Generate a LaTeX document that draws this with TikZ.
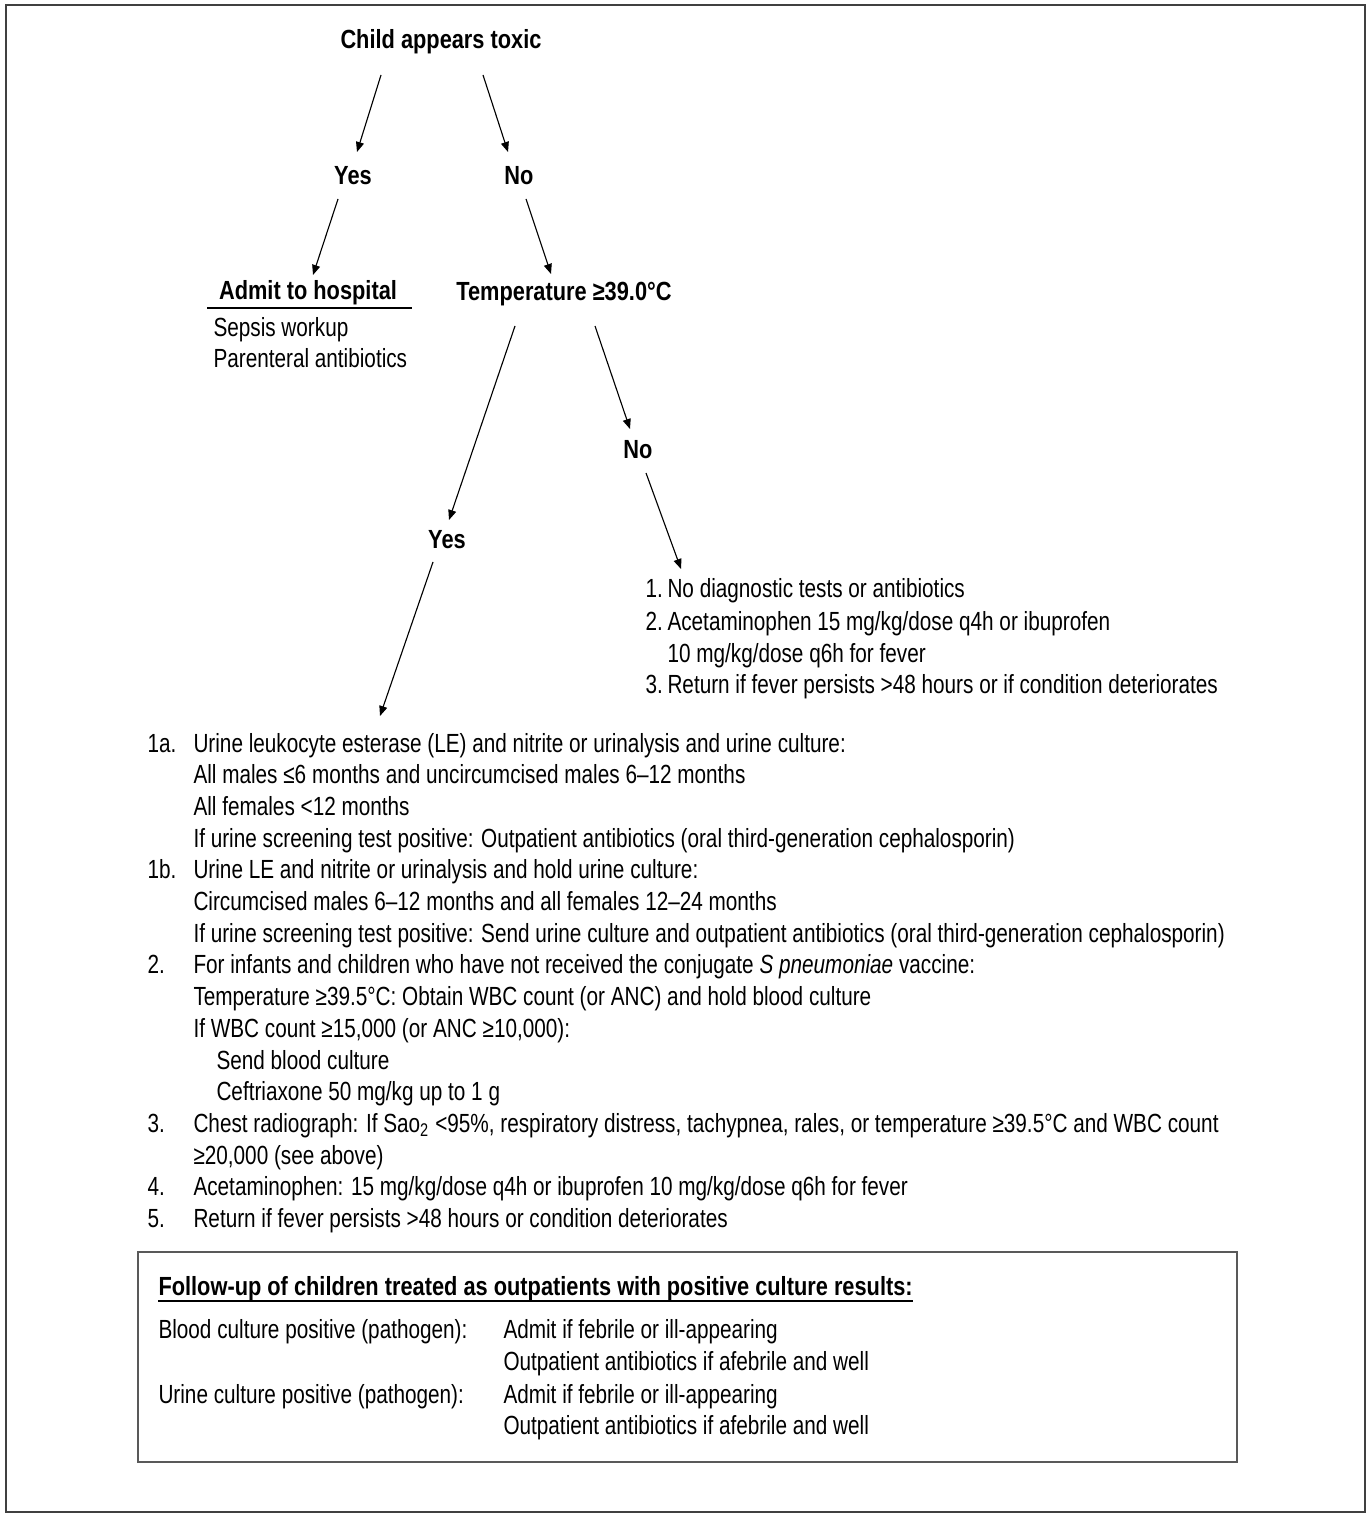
\documentclass[tikz,border=0pt]{standalone}
\usepackage{fontspec}
\setmainfont{Liberation Sans}[FakeStretch=0.79]
\newfontface\headfont{Liberation Sans Bold}[FakeStretch=0.83]
\usepackage{tikz}
\usetikzlibrary{arrows.meta,calc}
\newcommand{\listTop}{752}
\newcommand{\lineGap}{31.7}

\begin{document}
\begin{tikzpicture}[x=0.4pt,y=-0.4pt,
	every node/.style={inner sep=0pt,font=\fontsize{10.5}{12.7}\selectfont},
	head/.style={anchor=base,font=\fontsize{10.5}{12.7}\headfont},
	txt/.style={anchor=base west},
	arr/.style={-{Triangle[length=4pt,width=3.2pt]},line width=0.45pt,draw=black}]
	\useasboundingbox (0,0) rectangle (1367,1517);
	\draw[line width=0.9pt,draw=black!75] (6,5) rectangle (1365,1512);

	% decision tree
	\node[head] (toxic) at (441,49) {Child appears toxic};
	\node[head] (yesA) at (353,185) {Yes};
	\node[head] (noA) at (519,185) {No};
	\node[head] (admit) at (308,300) {Admit to hospital};
	\node[head] (temp) at (564,301) {Temperature ≥39.0°C};
	\node[txt] (sepsis) at (213,337) {Sepsis workup};
	\node[txt] (parent) at (213,368) {Parenteral antibiotics};
	\node[head] (noB) at (638,459) {No};
	\node[head] (yesB) at (447,548) {Yes};
	\draw[line width=0.5pt] ($(admit.base)+(-101,8)$) -- ($(admit.base)+(104,8)$);

	% no fever list
	\node[txt] (nA1) at (645,597) {1.};
	\node[txt] (rA1) at (667,597) {No diagnostic tests or antibiotics};
	\node[txt] (nA2) at (645,630) {2.};
	\node[txt] (rA2) at (667,630) {Acetaminophen 15 mg/kg/dose q4h or ibuprofen};
	\node[txt] (rA2b) at (667,662) {10 mg/kg/dose q6h for fever};
	\node[txt] (nA3) at (645,693) {3.};
	\node[txt] (rA3) at (667,693) {Return if fever persists >48 hours or if condition deteriorates};

	% fever list
	\node[txt] (n1a) at (147,\listTop) {1a.};
	\node[txt] (l1a) at (193,\listTop) {Urine leukocyte esterase (LE) and nitrite or urinalysis and urine culture:};
	\node[txt] (l1a1) at (193,{\listTop+\lineGap}) {All males ≤6 months and uncircumcised males 6–12 months};
	\node[txt] (l1a2) at (193,{\listTop+2*\lineGap}) {All females <12 months};
	\node[txt] (l1a3) at (193,{\listTop+3*\lineGap}) {If urine screening test positive: Outpatient antibiotics (oral third-generation cephalosporin)};
	\node[txt] (n1b) at (147,{\listTop+4*\lineGap}) {1b.};
	\node[txt] (l1b) at (193,{\listTop+4*\lineGap}) {Urine LE and nitrite or urinalysis and hold urine culture:};
	\node[txt] (l1b1) at (193,{\listTop+5*\lineGap}) {Circumcised males 6–12 months and all females 12–24 months};
	\node[txt] (l1b2) at (193,{\listTop+6*\lineGap}) {If urine screening test positive: Send urine culture and outpatient antibiotics (oral third-generation cephalosporin)};
	\node[txt] (n2) at (147,{\listTop+7*\lineGap}) {2.};
	\node[txt] (l2) at (193,{\listTop+7*\lineGap}) {For infants and children who have not received the conjugate \textit{S pneumoniae} vaccine:};
	\node[txt] (l21) at (193,{\listTop+8*\lineGap}) {Temperature ≥39.5°C: Obtain WBC count (or ANC) and hold blood culture};
	\node[txt] (l22) at (193,{\listTop+9*\lineGap}) {If WBC count ≥15,000 (or ANC ≥10,000):};
	\node[txt] (l23) at (216,{\listTop+10*\lineGap}) {Send blood culture};
	\node[txt] (l24) at (216,{\listTop+11*\lineGap}) {Ceftriaxone 50 mg/kg up to 1 g};
	\node[txt] (n3) at (147,{\listTop+12*\lineGap}) {3.};
	\node[txt] (l3) at (193,{\listTop+12*\lineGap}) {Chest radiograph: If Sao\textsubscript{2} <95\%, respiratory distress, tachypnea, rales, or temperature ≥39.5°C and WBC count};
	\node[txt] (l31) at (193,{\listTop+13*\lineGap}) {≥20,000 (see above)};
	\node[txt] (n4) at (147,{\listTop+14*\lineGap}) {4.};
	\node[txt] (l4) at (193,{\listTop+14*\lineGap}) {Acetaminophen: 15 mg/kg/dose q4h or ibuprofen 10 mg/kg/dose q6h for fever};
	\node[txt] (n5) at (147,{\listTop+15*\lineGap}) {5.};
	\node[txt] (l5) at (193,{\listTop+15*\lineGap}) {Return if fever persists >48 hours or condition deteriorates};

	% arrows
	\draw[arr] ($(toxic.base)+(-60,26)$) -- ($(yesA.base)+(4,-33)$);
	\draw[arr] ($(toxic.base)+(42,26)$) -- ($(noA.base)+(-11,-33)$);
	\draw[arr] ($(yesA.base)+(-15,14)$) -- ($(admit.base)+(5,-25)$);
	\draw[arr] ($(noA.base)+(7,14)$) -- ($(temp.base)+(-13,-27)$);
	\draw[arr] ($(temp.base)+(-49,25)$) -- ($(yesB.base)+(2,-28)$);
	\draw[arr] ($(temp.base)+(31,25)$) -- ($(noB.base)+(-8,-30)$);
	\draw[arr] ($(noB.base)+(8,14)$) -- ($(nA1.base west)+(36,-28)$);
	\draw[arr] ($(yesB.base)+(-14,14)$) -- ($(n1a.base west)+(233,-36)$);

	% follow-up box
	\draw[line width=0.7pt,draw=black!65] (138,1252) rectangle (1237,1462);
	\node[txt,font=\fontsize{10.5}{12.7}\headfont] (fuhead) at (158,1295) {Follow-up of children treated as outpatients with positive culture results:};
	\draw[line width=0.5pt] ($(fuhead.base west)+(0,6)$) -- ($(fuhead.base east)+(0,6)$);
	\node[txt] (blood) at (158,1338) {Blood culture positive (pathogen):};
	\node[txt] (bloodA) at (503,1338) {Admit if febrile or ill-appearing};
	\node[txt] (bloodB) at (503,1370) {Outpatient antibiotics if afebrile and well};
	\node[txt] (urine) at (158,1403) {Urine culture positive (pathogen):};
	\node[txt] (urineA) at (503,1403) {Admit if febrile or ill-appearing};
	\node[txt] (urineB) at (503,1434) {Outpatient antibiotics if afebrile and well};
\end{tikzpicture}
\end{document}
